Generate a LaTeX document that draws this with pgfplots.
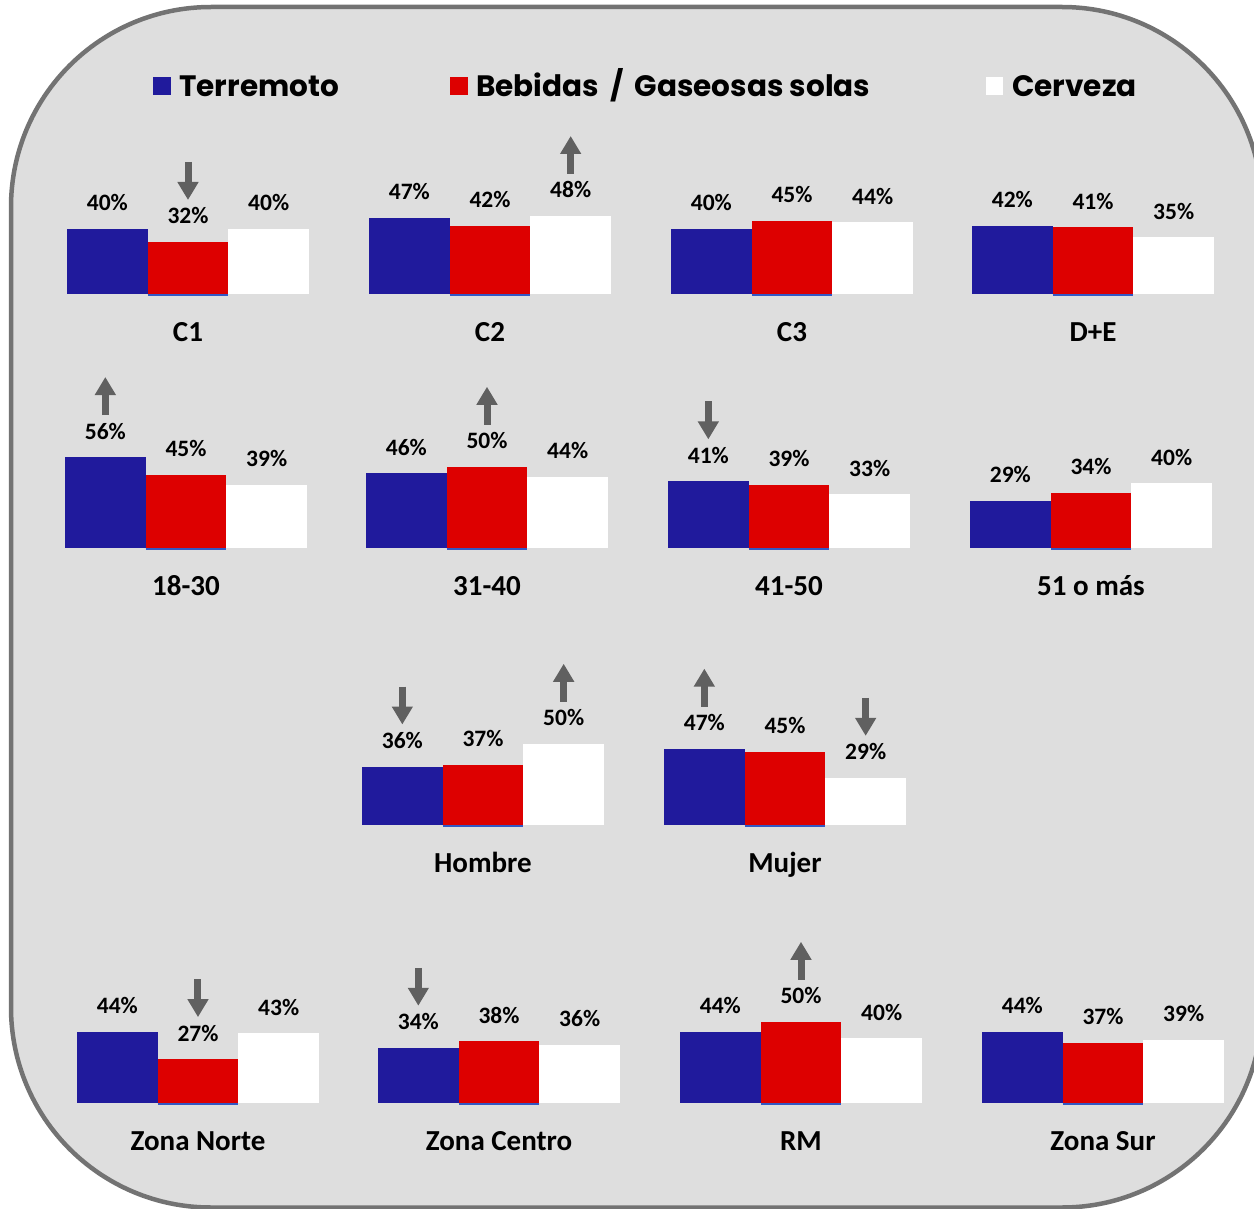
\documentclass[border=0pt]{standalone}
\usepackage{pgfplots}
\pgfplotsset{compat=1.18}
\usepackage{fontspec}
\setmainfont{Carlito}
\newfontfamily\legendfont{Poppins}
\usetikzlibrary{arrows.meta}
\definecolor{cblue}{HTML}{201A9C}
\definecolor{cred}{HTML}{DD0000}
\definecolor{cgray}{HTML}{606060}
\definecolor{cborder}{HTML}{737373}
\definecolor{cbg}{HTML}{DEDEDE}
\definecolor{cline}{HTML}{3358C4}
\pgfplotsset{
  grp/.style={scale only axis, width=242pt, height=162.5pt,
    xmin=0.5, xmax=3.5, ymin=0, ymax=100, hide axis, clip=false,
    anchor=south west,
    /pgf/number format/assume math mode=true},
  bb/.style={ybar, bar width=1, bar shift=0pt, draw=none,
    nodes near coords={\pgfmathprintnumber{\pgfplotspointmeta}\%},
    every node near coord/.append style={anchor=base, yshift=18pt, inner sep=0pt,
      font=\bfseries\fontsize{23.5}{23.5}\selectfont, text=black}},
}
\tikzset{
  arr/.style={draw=cgray, line width=7pt, -{Triangle[width=20pt,length=18pt]}},
  cat/.style={anchor=base, yshift=-47pt, inner sep=0pt, font=\bfseries\fontsize{29}{29}\selectfont}
}
\newcommand{\up}[2]{\draw[arr] ([yshift=42pt]axis cs:#1,#2) -- ([yshift=80pt]axis cs:#1,#2);}
\newcommand{\dn}[2]{\draw[arr] ([yshift=80pt]axis cs:#1,#2) -- ([yshift=42pt]axis cs:#1,#2);}
\newcommand{\grp}[7]{%
  \begin{axis}[grp, at={(#1pt,-#2pt)}]
    \addplot[bb, fill=cblue] coordinates {(1,#4)};
    \addplot[bb, fill=cred] coordinates {(2,#5)};
    \addplot[bb, fill=white] coordinates {(3,#6)};
    \draw[cline, line width=2pt] ([yshift=-1pt]axis cs:1.5,0) -- ([yshift=-1pt]axis cs:2.5,0);
    \node[cat] at (axis cs:2,0) {#3};
    #7
  \end{axis}}
\begin{document}
\begin{tikzpicture}[x=1pt, y=1pt]
\useasboundingbox (0,0) rectangle (1254,-1209);
\clip (0,0) rectangle (1254,-1209);
\draw[line width=4.5pt, draw=cborder, fill=cbg, rounded corners=200pt] (11,-7) rectangle (1262,-1207.5);
% legend
\fill[cblue] (153,-77) rectangle (171,-95);
\node[anchor=base west, inner sep=0pt, font=\legendfont\bfseries\fontsize{29.5}{30}\selectfont] at (179,-97) {Terremoto};
\fill[cred] (450,-77) rectangle (468,-95);
\node[anchor=base west, inner sep=0pt, font=\legendfont\bfseries\fontsize{29.5}{30}\selectfont] at (476,-97) {Bebidas \,/\, Gaseosas solas};
\fill[white] (986,-77) rectangle (1003,-95);
\node[anchor=base west, inner sep=0pt, font=\legendfont\bfseries\fontsize{29.5}{30}\selectfont] at (1012,-97) {Cerveza};
% row 1
\grp{67}{294}{C1}{40}{32}{40}{\dn{2}{32}}
\grp{369}{294}{C2}{47}{42}{48}{\up{3}{48}}
\grp{671}{294}{C3}{40}{45}{44}{}
\grp{972}{294}{D+E}{42}{41}{35}{}
% row 2
\grp{65}{548}{18-30}{56}{45}{39}{\up{1}{56}}
\grp{366}{548}{31-40}{46}{50}{44}{\up{2}{50}}
\grp{668}{548}{41-50}{41}{39}{33}{\dn{1}{41}}
\grp{970}{548}{51 o más}{29}{34}{40}{}
% row 3
\grp{362}{825}{Hombre}{36}{37}{50}{\dn{1}{36}\up{3}{50}}
\grp{664}{825}{Mujer}{47}{45}{29}{\up{1}{47}\dn{3}{29}}
% row 4
\grp{77}{1103}{Zona Norte}{44}{27}{43}{\dn{2}{27}}
\grp{378}{1103}{Zona Centro}{34}{38}{36}{\dn{1}{34}}
\grp{680}{1103}{RM}{44}{50}{40}{\up{2}{50}}
\grp{982}{1103}{Zona Sur}{44}{37}{39}{}
\end{tikzpicture}
\end{document}
